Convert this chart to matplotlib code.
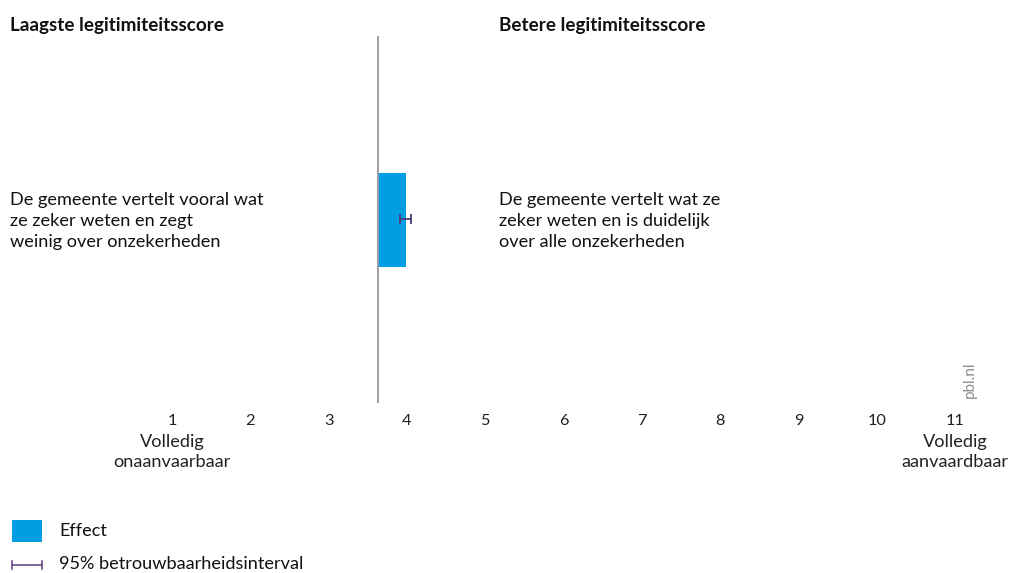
import matplotlib
matplotlib.use("Agg")
import matplotlib.pyplot as plt
from matplotlib.patches import Rectangle
from matplotlib.lines import Line2D

plt.rcParams['font.family'] = ['Lato', 'DejaVu Sans']

# Data
ticks = [1, 2, 3, 4, 5, 6, 7, 8, 9, 10, 11]
tick_labels = ['1', '2', '3', '4', '5', '6', '7', '8', '9', '10', '11']
baseline = 3.63
effect = 3.99
ci_low = 3.91
ci_high = 4.05
left_text = "De gemeente vertelt vooral wat\nze zeker weten en zegt\nweinig over onzekerheden"
right_text = "De gemeente vertelt wat ze\nzeker weten en is duidelijk\nover alle onzekerheden"

W, H = 1011, 573
fig = plt.figure(figsize=(W / 100, H / 100), dpi=100)

x0_px = 172 - 78.3
x1_px = 172 + 10.5 * 78.3
ax_top, ax_bot = 36, 403
ax = fig.add_axes([x0_px / W, 1 - ax_bot / H, (x1_px - x0_px) / W, (ax_bot - ax_top) / H])
ax.set_xlim(0, 11.5)
ax.set_ylim(0, 1)
ax.axis('off')

bar_color = '#009fe3'
err_color = '#4b3a7c'
txt = '#111111'
FS = 13.1

yb0 = (ax_bot - 267) / (ax_bot - ax_top)
yb1 = (ax_bot - 173) / (ax_bot - ax_top)
ax.barh([(yb0 + yb1) / 2], [effect - baseline], left=baseline, height=yb1 - yb0,
        color=bar_color, edgecolor='none', zorder=2)
ye = (ax_bot - 219) / (ax_bot - ax_top)
ax.errorbar([effect], [ye], xerr=[[effect - ci_low], [ci_high - effect]], fmt='none',
            ecolor=err_color, elinewidth=1.3, capsize=3.5, capthick=1.3, zorder=3)
ax.axvline(baseline, color='#9a9a9a', lw=1.3, zorder=4)

for t, lab in zip(ticks, tick_labels):
    ax.text(t, -(421 - ax_bot) / (ax_bot - ax_top), lab, ha='center', va='center',
            fontsize=11.8, color='#222222', clip_on=False)
ax.text(1, -(452 - ax_bot) / (ax_bot - ax_top), "Volledig\nonaanvaarbaar", ha='center', va='center',
        fontsize=FS, color='#222222', linespacing=1.3, clip_on=False)
ax.text(11, -(452 - ax_bot) / (ax_bot - ax_top), "Volledig\naanvaardbaar", ha='center', va='center',
        fontsize=FS, color='#222222', linespacing=1.3, clip_on=False)

fig.text(10 / W, 1 - 25 / H, "Laagste legitimiteitsscore", fontsize=13.6, fontweight='bold',
         ha='left', va='center', color=txt)
fig.text(499 / W, 1 - 25 / H, "Betere legitimiteitsscore", fontsize=13.6, fontweight='bold',
         ha='left', va='center', color=txt)

fig.text(10 / W, 1 - 221 / H, left_text, fontsize=FS, ha='left', va='center',
         color=txt, linespacing=1.35)
fig.text(499 / W, 1 - 221 / H, right_text, fontsize=FS, ha='left', va='center',
         color=txt, linespacing=1.35)

fig.text(970 / W, 1 - 380 / H, "pbl.nl", fontsize=11, rotation=90, ha='center', va='center',
         color='#8a8a8a')

fig.patches.append(Rectangle((12 / W, 1 - 542 / H), 30 / W, 22 / H, transform=fig.transFigure,
                             facecolor=bar_color, edgecolor='none'))
fig.text(59 / W, 1 - 531 / H, "Effect", fontsize=FS, ha='left', va='center', color=txt)
fig.lines.append(Line2D([12 / W, 42 / W], [1 - 565 / H, 1 - 565 / H], transform=fig.transFigure,
                        color='#6a4f8c', lw=1.2))
for xp in (12, 42):
    fig.lines.append(Line2D([xp / W, xp / W], [1 - 561 / H, 1 - 569 / H], transform=fig.transFigure,
                            color='#6a4f8c', lw=1.2))
fig.text(59 / W, 1 - 564 / H, "95% betrouwbaarheidsinterval", fontsize=FS, ha='left', va='center',
         color=txt)

fig.savefig("out.png", dpi=100)
